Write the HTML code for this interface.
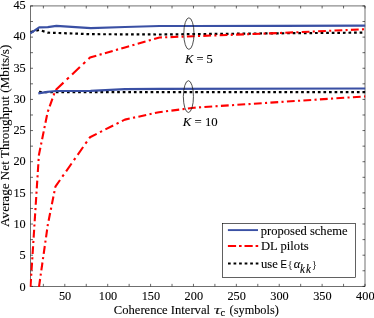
<!DOCTYPE html>
<html><head><meta charset="utf-8"><title>chart</title>
<style>
html,body{margin:0;padding:0;background:#fff;}
svg{display:block;font-family:"Liberation Serif",serif;font-size:12px;fill:#000}
.sans{font-family:"Liberation Sans",sans-serif}
text{stroke:#000;stroke-width:0.1px}
</style></head><body>
<svg width="374" height="318" viewBox="0 0 374 318">
<rect width="374" height="318" fill="#fff"/>
<defs><filter id="bl" x="-5%" y="-5%" width="110%" height="110%"><feGaussianBlur stdDeviation="0.35"/></filter><clipPath id="cp"><rect x="29.5" y="4.95" width="336.5" height="282.40000000000003"/></clipPath></defs>
<path d="M43.37,286.35 v-2.5 M43.37,5.95 v2.5 M64.81,286.35 v-2.5 M64.81,5.95 v2.5 M86.25,286.35 v-2.5 M86.25,5.95 v2.5 M107.69,286.35 v-2.5 M107.69,5.95 v2.5 M129.13,286.35 v-2.5 M129.13,5.95 v2.5 M150.58,286.35 v-2.5 M150.58,5.95 v2.5 M172.02,286.35 v-2.5 M172.02,5.95 v2.5 M193.46,286.35 v-2.5 M193.46,5.95 v2.5 M214.90,286.35 v-2.5 M214.90,5.95 v2.5 M236.35,286.35 v-2.5 M236.35,5.95 v2.5 M257.79,286.35 v-2.5 M257.79,5.95 v2.5 M279.23,286.35 v-2.5 M279.23,5.95 v2.5 M300.67,286.35 v-2.5 M300.67,5.95 v2.5 M322.12,286.35 v-2.5 M322.12,5.95 v2.5 M343.56,286.35 v-2.5 M343.56,5.95 v2.5 M365.00,286.35 v-2.5 M365.00,5.95 v2.5 M30.5,286.35 h2.5 M365.0,286.35 h-2.5 M30.5,270.77 h2.5 M365.0,270.77 h-2.5 M30.5,255.19 h2.5 M365.0,255.19 h-2.5 M30.5,239.62 h2.5 M365.0,239.62 h-2.5 M30.5,224.04 h2.5 M365.0,224.04 h-2.5 M30.5,208.46 h2.5 M365.0,208.46 h-2.5 M30.5,192.88 h2.5 M365.0,192.88 h-2.5 M30.5,177.31 h2.5 M365.0,177.31 h-2.5 M30.5,161.73 h2.5 M365.0,161.73 h-2.5 M30.5,146.15 h2.5 M365.0,146.15 h-2.5 M30.5,130.57 h2.5 M365.0,130.57 h-2.5 M30.5,114.99 h2.5 M365.0,114.99 h-2.5 M30.5,99.42 h2.5 M365.0,99.42 h-2.5 M30.5,83.84 h2.5 M365.0,83.84 h-2.5 M30.5,68.26 h2.5 M365.0,68.26 h-2.5 M30.5,52.68 h2.5 M365.0,52.68 h-2.5 M30.5,37.11 h2.5 M365.0,37.11 h-2.5 M30.5,21.53 h2.5 M365.0,21.53 h-2.5 M30.5,5.95 h2.5 M365.0,5.95 h-2.5" stroke="#000" stroke-width="0.6" fill="none"/>
<rect x="30.5" y="5.95" width="334.5" height="280.40000000000003" fill="none" stroke="#000" stroke-width="0.56"/>
<g clip-path="url(#cp)" fill="none" stroke-linejoin="round">
<path d="M30.70,32.12 L33.40,31.42 M36.27,30.66 L38.97,29.96 M41.85,30.76 L44.55,31.64 M47.42,32.58 L47.80,32.70 L50.12,32.75 M53.00,32.82 L55.70,32.88 M58.58,32.98 L61.27,33.08 M64.15,33.19 L66.85,33.29 M69.72,33.40 L72.42,33.51 M75.30,33.61 L78.00,33.72 M80.88,33.82 L83.58,33.93 M86.45,34.04 L89.15,34.14 M92.03,34.20 L94.73,34.21 M97.60,34.22 L100.30,34.23 M103.18,34.24 L105.88,34.24 M108.75,34.25 L111.45,34.26 M114.33,34.27 L117.03,34.28 M119.90,34.29 L122.60,34.29 M125.48,34.30 L128.18,34.32 M131.05,34.34 L133.75,34.35 M136.62,34.37 L139.32,34.38 M142.20,34.40 L144.90,34.42 M147.78,34.43 L150.48,34.45 M153.35,34.46 L156.05,34.48 M158.93,34.50 L159.50,34.50 L161.62,34.48 M164.50,34.44 L167.20,34.41 M170.08,34.38 L172.78,34.35 M175.65,34.31 L178.35,34.28 M181.23,34.25 L183.93,34.22 M186.80,34.18 L189.50,34.15 M192.38,34.12 L194.00,34.10 L195.08,34.09 M197.95,34.06 L200.65,34.04 M203.53,34.01 L206.23,33.99 M209.10,33.96 L211.80,33.93 M214.68,33.91 L217.38,33.88 M220.25,33.86 L222.95,33.83 M225.83,33.80 L228.53,33.78 M231.40,33.75 L234.10,33.73 M236.98,33.70 L239.68,33.68 M242.55,33.65 L245.25,33.62 M248.13,33.60 L250.83,33.57 M253.70,33.54 L256.40,33.52 M259.28,33.49 L261.98,33.47 M264.85,33.44 L267.55,33.42 M270.43,33.39 L273.12,33.36 M276.00,33.34 L278.70,33.31 M281.58,33.29 L284.28,33.26 M287.15,33.24 L289.85,33.22 M292.73,33.20 L295.43,33.17 M298.30,33.15 L301.00,33.13 M303.88,33.10 L306.58,33.08 M309.45,33.06 L312.15,33.04 M315.03,33.01 L317.73,32.99 M320.60,32.97 L323.30,32.94 M326.18,32.92 L328.88,32.90 M331.75,32.87 L334.45,32.85 M337.33,32.83 L340.03,32.81 M342.90,32.78 L345.60,32.76 M348.48,32.74 L351.18,32.72 M354.05,32.69 L356.75,32.67 M359.63,32.65 L362.33,32.62" stroke="#000" stroke-width="2.2"/>
<path d="M39.10,91.92 L41.80,91.98 M44.67,92.04 L47.38,92.10 M50.25,92.10 L52.95,92.11 M55.83,92.11 L58.52,92.11 M61.40,92.12 L64.10,92.12 M66.97,92.13 L69.67,92.13 M72.55,92.13 L75.25,92.14 M78.12,92.14 L80.82,92.14 M83.70,92.15 L86.40,92.15 M89.28,92.15 L91.97,92.16 M94.85,92.16 L97.55,92.16 M100.42,92.17 L103.12,92.17 M106.00,92.18 L108.70,92.18 M111.58,92.18 L114.28,92.19 M117.15,92.19 L119.85,92.19 M122.72,92.20 L125.00,92.20 L125.42,92.20 M128.30,92.20 L131.00,92.20 M133.88,92.20 L136.57,92.20 M139.45,92.20 L142.15,92.20 M145.02,92.20 L147.72,92.20 M150.60,92.20 L153.30,92.20 M156.17,92.20 L158.88,92.20 M161.75,92.20 L164.45,92.20 M167.32,92.20 L170.02,92.20 M172.90,92.20 L175.60,92.20 M178.47,92.20 L181.17,92.20 M184.05,92.20 L186.75,92.20 M189.62,92.20 L192.32,92.20 M195.20,92.20 L197.90,92.20 M200.78,92.20 L203.47,92.20 M206.35,92.20 L209.05,92.20 M211.93,92.20 L214.62,92.20 M217.50,92.20 L220.20,92.20 M223.07,92.20 L225.77,92.20 M228.65,92.20 L231.35,92.20 M234.23,92.20 L236.93,92.20 M239.80,92.20 L242.50,92.20 M245.38,92.20 L248.07,92.20 M250.95,92.20 L253.65,92.20 M256.52,92.20 L259.23,92.20 M262.10,92.20 L264.80,92.20 M267.68,92.20 L270.38,92.20 M273.25,92.20 L275.95,92.20 M278.83,92.20 L281.52,92.20 M284.40,92.20 L287.10,92.20 M289.98,92.20 L292.68,92.20 M295.55,92.20 L298.25,92.20 M301.13,92.20 L303.83,92.20 M306.70,92.20 L309.40,92.20 M312.28,92.20 L314.98,92.20 M317.85,92.20 L320.55,92.20 M323.43,92.20 L326.12,92.20 M329.00,92.20 L331.70,92.20 M334.58,92.20 L337.27,92.20 M340.15,92.20 L342.85,92.20 M345.73,92.20 L348.43,92.20 M351.30,92.20 L354.00,92.20 M356.88,92.20 L359.58,92.20 M362.45,92.20 L365.15,92.20" stroke="#000" stroke-width="2.2"/>
<path d="M30.50,286.80 L31.00,279.00 M31.20,275.75 L31.34,273.65 M31.55,270.40 L32.04,262.60 M32.25,259.35 L32.38,257.25 M32.59,254.00 L33.09,246.20 M33.29,242.95 L33.43,240.85 M33.64,237.60 L34.13,229.80 M34.34,226.55 L34.47,224.45 M34.68,221.20 L35.18,213.40 M35.39,210.15 L35.52,208.05 M35.73,204.80 L36.22,197.00 M36.43,193.75 L36.56,191.65 M36.77,188.40 L37.27,180.60 M37.48,177.35 L37.61,175.25 M37.82,172.00 L38.31,164.20 M38.52,160.95 L38.65,158.85 M38.86,155.60 L38.90,155.00 L40.37,147.80 M41.03,144.55 L41.46,142.45 M42.12,139.20 L43.71,131.40 M44.37,128.15 L44.80,126.05 M45.46,122.80 L47.05,115.00 M47.80,111.75 L48.54,109.65 M49.69,106.40 L52.46,98.60 M53.61,95.35 L54.35,93.25 M55.70,90.02 L63.50,82.62 M66.75,79.54 L68.85,77.55 M72.10,74.47 L79.90,67.07 M83.15,63.99 L85.25,62.00 M88.50,58.92 L90.00,57.50 L96.30,55.68 M99.55,54.74 L101.65,54.13 M104.90,53.19 L112.70,50.93 M115.95,49.99 L118.05,49.38 M121.30,48.44 L124.90,47.40 L129.10,46.20 M132.35,45.27 L134.45,44.67 M137.70,43.74 L145.50,41.51 M148.75,40.58 L150.85,39.98 M154.10,39.05 L159.50,37.50 L161.90,37.41 M165.15,37.29 L167.25,37.21 M170.50,37.09 L178.30,36.79 M181.55,36.67 L183.65,36.59 M186.90,36.47 L194.00,36.20 L194.70,36.17 M197.95,36.05 L200.05,35.97 M203.30,35.85 L211.10,35.56 M214.35,35.44 L216.45,35.36 M219.70,35.24 L227.50,34.95 M230.75,34.83 L232.85,34.75 M236.10,34.63 L243.90,34.34 M247.15,34.22 L249.25,34.14 M252.50,34.02 L260.30,33.73 M263.55,33.61 L265.65,33.53 M268.90,33.41 L276.70,33.12 M279.95,33.00 L280.00,33.00 L282.05,32.91 M285.30,32.76 L293.10,32.42 M296.35,32.27 L298.45,32.18 M301.70,32.03 L309.50,31.68 M312.75,31.54 L314.85,31.45 M318.10,31.30 L325.90,30.95 M329.15,30.81 L331.25,30.71 M334.50,30.57 L342.30,30.22 M345.55,30.08 L347.65,29.98 M350.90,29.84 L358.70,29.49 M361.95,29.34 L364.05,29.25" stroke="#f00" stroke-width="2.1"/>
<path d="M39.00,286.80 L40.11,279.00 M40.58,275.70 L40.87,273.60 M41.34,270.30 L42.45,262.50 M42.92,259.20 L43.22,257.10 M43.68,253.80 L44.79,246.00 M45.26,242.70 L45.56,240.60 M46.03,237.30 L47.13,229.50 M47.60,226.20 L47.80,224.80 L47.94,224.10 M48.60,220.80 L50.15,213.00 M50.80,209.70 L51.22,207.60 M51.88,204.30 L53.43,196.50 M54.09,193.20 L54.50,191.10 M55.16,187.80 L55.40,186.60 L60.02,180.00 M62.33,176.70 L63.80,174.60 M66.12,171.30 L71.58,163.50 M73.89,160.20 L75.36,158.10 M77.67,154.80 L83.14,147.00 M85.45,143.70 L86.92,141.60 M89.23,138.30 L90.00,137.20 L96.70,133.82 M100.00,132.16 L102.10,131.10 M105.40,129.43 L113.20,125.50 M116.50,123.84 L118.60,122.78 M121.90,121.11 L124.90,119.60 L129.70,118.56 M133.00,117.84 L135.10,117.38 M138.40,116.66 L146.20,114.96 M149.50,114.25 L151.60,113.79 M154.90,113.07 L158.90,112.20 L162.70,111.71 M166.00,111.29 L168.10,111.02 M171.40,110.60 L179.20,109.60 M182.50,109.17 L184.60,108.91 M187.90,108.48 L194.00,107.70 L195.70,107.59 M199.00,107.37 L201.10,107.23 M204.40,107.01 L212.20,106.49 M215.50,106.28 L217.60,106.14 M220.90,105.92 L228.70,105.40 M232.00,105.18 L234.10,105.04 M237.40,104.82 L245.20,104.31 M248.50,104.09 L250.60,103.95 M253.90,103.73 L261.70,103.21 M265.00,102.99 L267.10,102.86 M270.40,102.64 L278.20,102.12 M281.50,101.90 L283.60,101.76 M286.90,101.55 L294.70,101.03 M298.00,100.82 L300.10,100.68 M303.40,100.46 L311.20,99.95 M314.50,99.73 L316.60,99.59 M319.90,99.38 L327.70,98.86 M331.00,98.65 L333.10,98.51 M336.40,98.29 L344.20,97.78 M347.50,97.56 L349.60,97.43 M352.90,97.21 L360.70,96.70 M364.00,96.48 L365.20,96.40" stroke="#f00" stroke-width="2.1"/>
<path d="M30.4,33.3 L39.2,27.4 L47.8,27.2 L56.4,25.9 L90.8,28.2 L125.0,27.0 L159.5,26.0 L194.0,26.0 L280.0,25.9 L365.2,25.7" stroke="#3a50a4" stroke-width="2.2"/>
<path d="M38.3,93.4 L47.5,91.8 L56.0,91.0 L90.6,90.8 L125.0,89.1 L159.5,88.8 L365.2,88.5" stroke="#3a50a4" stroke-width="2.2"/>
</g>
<g filter="url(#bl)">
<ellipse cx="188.9" cy="33.6" rx="5.1" ry="15.8" fill="none" stroke="#222" stroke-width="0.8"/>
<ellipse cx="188.4" cy="96.6" rx="5.05" ry="15.9" fill="none" stroke="#222" stroke-width="0.8"/>
<text transform="translate(185.0,62.8) scale(1,1.05)" font-size="12.5" text-anchor="start" ><tspan font-style="italic">K</tspan> = 5</text>
<text transform="translate(182.8,126.3) scale(1,1.05)" font-size="12.8" text-anchor="start" ><tspan font-style="italic">K</tspan> = 10</text>
<g><text transform="translate(65.1,300.1) scale(1,1.07)" font-size="12.3" text-anchor="middle" >50</text><text transform="translate(108.0,300.1) scale(1,1.07)" font-size="12.3" text-anchor="middle" >100</text><text transform="translate(150.9,300.1) scale(1,1.07)" font-size="12.3" text-anchor="middle" >150</text><text transform="translate(193.8,300.1) scale(1,1.07)" font-size="12.3" text-anchor="middle" >200</text><text transform="translate(236.6,300.1) scale(1,1.07)" font-size="12.3" text-anchor="middle" >250</text><text transform="translate(279.5,300.1) scale(1,1.07)" font-size="12.3" text-anchor="middle" >300</text><text transform="translate(322.4,300.1) scale(1,1.07)" font-size="12.3" text-anchor="middle" >350</text><text transform="translate(365.3,300.1) scale(1,1.07)" font-size="12.3" text-anchor="middle" >400</text></g>
<g><text transform="translate(25.7,290.5) scale(1,1.07)" font-size="12.3" text-anchor="end" >0</text><text transform="translate(25.7,259.2) scale(1,1.07)" font-size="12.3" text-anchor="end" >5</text><text transform="translate(25.7,227.9) scale(1,1.07)" font-size="12.3" text-anchor="end" >10</text><text transform="translate(25.7,196.6) scale(1,1.07)" font-size="12.3" text-anchor="end" >15</text><text transform="translate(25.7,165.4) scale(1,1.07)" font-size="12.3" text-anchor="end" >20</text><text transform="translate(25.7,134.1) scale(1,1.07)" font-size="12.3" text-anchor="end" >25</text><text transform="translate(25.7,102.8) scale(1,1.07)" font-size="12.3" text-anchor="end" >30</text><text transform="translate(25.7,71.5) scale(1,1.07)" font-size="12.3" text-anchor="end" >35</text><text transform="translate(25.7,40.3) scale(1,1.07)" font-size="12.3" text-anchor="end" >40</text><text transform="translate(25.7,9.0) scale(1,1.07)" font-size="12.3" text-anchor="end" >45</text></g>
<text transform="translate(113.8,314.2) scale(1,1.05)" font-size="12.5" text-anchor="start" textLength="96.2" lengthAdjust="spacingAndGlyphs">Coherence Interval</text>
<text transform="translate(213.4,314.0) scale(1.42,0.82)" font-size="15" font-style="italic" style="stroke:none" fill="#222">τ</text>
<text transform="translate(220.6,316.4) scale(1,1.05)" font-size="10.5" text-anchor="start" >c</text>
<text transform="translate(229.6,314.2) scale(1,1.05)" font-size="12.5" text-anchor="start" textLength="49.2" lengthAdjust="spacingAndGlyphs">(symbols)</text>
<text transform="translate(9.3,226.9) rotate(-90) scale(1,0.94)" font-size="13" textLength="182.2" lengthAdjust="spacingAndGlyphs">Average Net Throughput (Mbits/s)</text>
</g>
<rect x="222.45" y="223.5" width="133.2" height="53.9" fill="#fff" stroke="#000" stroke-width="0.62"/>
<path d="M227.9,230.1 H258" stroke="#3a50a4" stroke-width="1.9"/>
<path d="M227.9,246.05 H258.2" stroke="#f00" stroke-width="2.1" stroke-dasharray="8.2 2.9 2.6 2.9"/>
<path d="M228.0,263.5 H258.4" stroke="#000" stroke-width="2.2" stroke-dasharray="2.7 2.85"/>
<g filter="url(#bl)">
<text transform="translate(260.8,234.9) scale(1,1.05)" font-size="12.55" text-anchor="start" >proposed scheme</text>
<text transform="translate(260.9,250.3) scale(1,1.05)" font-size="12.65" text-anchor="start" >DL pilots</text>
<text transform="translate(260.9,267.9) scale(1,1.05)" font-size="12.65" text-anchor="start" >use</text>
<text transform="translate(280.6,267.9) scale(1,1.05)" font-size="9.6" text-anchor="start" class="sans">E</text>
<text transform="translate(287.8,267.7) scale(1,1.05)" font-size="10" text-anchor="start" fill="#333">{</text>
<text transform="translate(293.8,267.9) scale(1,1.05)" font-size="12.5" text-anchor="start" font-style="italic">α</text>
<text transform="translate(300,273.4) scale(1,1.05)" font-size="11" text-anchor="start" font-style="italic" letter-spacing="1.1">kk</text>
<text transform="translate(312.0,267.7) scale(1,1.05)" font-size="10" text-anchor="start" fill="#333">}</text>
</g>
</svg>
</body></html>
